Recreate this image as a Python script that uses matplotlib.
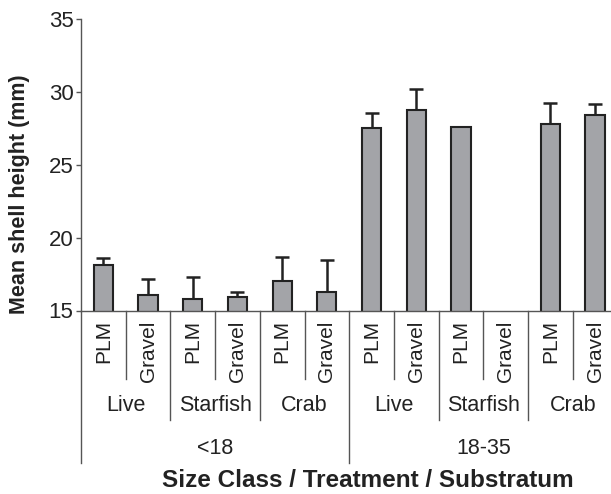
import numpy as np
import matplotlib
matplotlib.use('Agg')
import matplotlib.pyplot as plt
import matplotlib.transforms as mtransforms

plt.rcParams['font.family'] = ['Liberation Sans', 'DejaVu Sans']

# Data
size_classes = ["<18", "18-35"]
treatments = ["Live", "Starfish", "Crab"]
substrata = ["PLM", "Gravel"]
means = [18.1, 16.05, 15.82, 15.94, 17.02, 16.3,
         27.49, 28.79, 27.58, np.nan, 27.81, 28.42]
upper_err = [0.5, 1.08, 1.45, 0.36, 1.65, 2.18,
             1.05, 1.42, 0.0, 0.0, 1.44, 0.74]

BAR = '#a3a4a8'
EDGE = '#222222'
AXIS = '#555555'
TEXT = '#222222'

fig = plt.figure(figsize=(6.11, 4.94), dpi=100)
ax = fig.add_axes([81 / 611, 1 - 310.5 / 494, (617.4 - 81) / 611, 291.5 / 494])

n = len(means)
x = np.arange(n)
ax.bar(x, means, width=0.43, bottom=0, color=BAR, edgecolor=EDGE,
       linewidth=1.5, zorder=2)

# only the upward half of the error bars, skip bars without one
err = np.array(upper_err)
has_err = err > 0
ax.errorbar(x[has_err], np.array(means)[has_err],
            yerr=[np.zeros(has_err.sum()), err[has_err]],
            fmt='none', ecolor=EDGE, elinewidth=1.8, capsize=5,
            capthick=1.8, zorder=1)

ax.set_xlim(-0.5, n - 0.5)
ax.set_ylim(15, 35)
ax.set_yticks([15, 20, 25, 30, 35])
ax.tick_params(axis='y', length=3.5, width=1, color=AXIS, pad=2,
               labelsize=16, labelcolor=TEXT)

# substratum labels as rotated tick labels
sub_labels = [substrata[i % 2] for i in range(n)]
ax.set_xticks(x)
ax.set_xticklabels(sub_labels, rotation=90, fontsize=15, color=TEXT)
ax.tick_params(axis='x', length=0, pad=7)

for side in ['top', 'right']:
    ax.spines[side].set_visible(False)
for side in ['left', 'bottom']:
    ax.spines[side].set_color(AXIS)
    ax.spines[side].set_linewidth(1)

# hierarchical separators below the axis
trans = mtransforms.blended_transform_factory(ax.transData, ax.transAxes)
short_y, mid_y, long_y = -0.235, -0.3756, -0.523
for b in range(n + 1):
    xb = b - 0.5
    if b % 6 == 0:
        y_end = long_y
    elif b % 2 == 0:
        y_end = mid_y
    else:
        y_end = short_y
    ax.plot([xb, xb], [0, y_end], transform=trans, color=AXIS, lw=1,
            clip_on=False)

# treatment labels
for k in range(len(size_classes) * len(treatments)):
    xc = 2 * k + 0.5
    ax.text(xc, -0.3276, treatments[k % 3], transform=trans, ha='center',
            va='center', fontsize=15.5, color=TEXT)

# size class labels
for k, sc in enumerate(size_classes):
    xc = 6 * k + 2.5
    ax.text(xc, -0.4717, sc, transform=trans, ha='center', va='center',
            fontsize=15.5, color=TEXT)

fig.text(20 / 611, 1 - 194 / 494, "Mean shell height (mm)", rotation=90,
         ha='center', va='center', fontsize=15.5, fontweight='bold',
         color=TEXT)
fig.text(367.5 / 611, 1 - 487 / 494, "Size Class / Treatment / Substratum",
         ha='center', va='baseline', fontsize=17.5, fontweight='bold',
         color=TEXT)

fig.savefig('out.png', dpi=100)
